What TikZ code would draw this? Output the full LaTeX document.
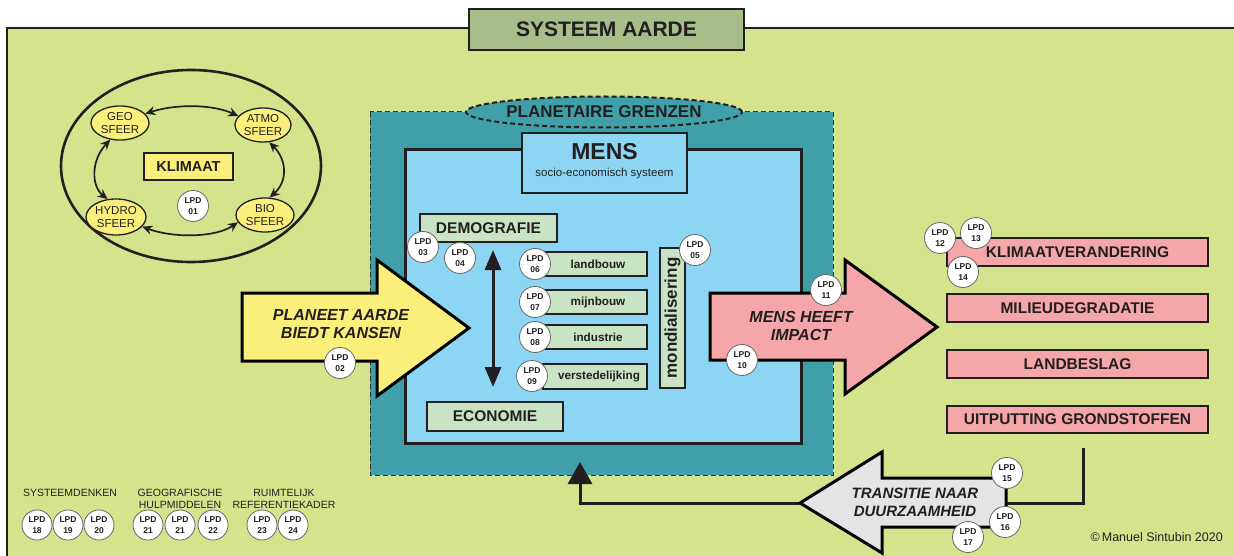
\documentclass[tikz,border=0pt]{standalone}
\usepackage{fontspec}
\setmainfont{Liberation Sans}
\usetikzlibrary{arrows.meta,shapes.geometric}
\definecolor{bggreen}{HTML}{D4E38C}
\definecolor{titlegreen}{HTML}{A8BE8A}
\definecolor{ylw}{HTML}{FBEF7B}
\definecolor{tealbg}{HTML}{3FA0AA}
\definecolor{lblue}{HTML}{8DD6F3}
\definecolor{pgreen}{HTML}{C8E4C4}
\definecolor{pinkbg}{HTML}{F4A6A8}
\definecolor{garrow}{HTML}{E4E4E6}
\definecolor{ink}{HTML}{231F20}
\begin{document}
\begin{tikzpicture}[x=1pt,y=-1pt,
  lpd/.style={circle,draw=black!60,line width=0.8pt,fill=white,minimum size=31pt,inner sep=0pt,align=center,font=\fontsize{8.5}{11}\selectfont\bfseries,text=ink},
  sphbox/.style={ellipse,draw=ink,line width=1.3pt,fill=ylw,minimum width=58pt,minimum height=34pt,inner sep=0pt,align=center,font=\fontsize{11.5}{13}\selectfont,text=ink},
  gbox/.style={rectangle,draw=ink,line width=1.8pt,fill=pgreen,inner sep=0pt,text=ink},
  sbox/.style={gbox,minimum width=104pt,minimum height=24pt,font=\fontsize{11.7}{13}\selectfont\bfseries},
  pbox/.style={rectangle,draw=ink,line width=1.5pt,fill=pinkbg,inner sep=0pt,minimum width=261pt,minimum height=28pt,font=\fontsize{15.5}{17}\selectfont\bfseries,text=ink},
  bigarrow/.style={draw=black,line width=3pt,line join=miter},
  arrowtext/.style={align=center,text=ink,font=\fontsize{16}{18.5}\selectfont\bfseries\itshape},
  kl/.style={draw=ink,line width=1.7pt,{Stealth[length=10pt,width=9pt]}-{Stealth[length=10pt,width=9pt]}},
  lgd/.style={font=\fontsize{10.5}{12.5}\selectfont,text=ink,align=center},
]
\useasboundingbox (0,0) rectangle (1234,556);
% background
\fill[white] (0,0) rectangle (1234,556);
\fill[bggreen] (7,28) rectangle (1234,556);
\draw[ink,line width=2pt] (7,557) -- (7,28) -- (1235,28);
\node[rectangle,draw=ink,line width=2pt,fill=titlegreen,minimum width=275pt,minimum height=41pt,inner sep=0pt,font=\fontsize{21}{24}\selectfont\bfseries,text=ink] (title) at (606.5,29.5) {SYSTEEM AARDE};

% climate system
\draw[ink,line width=2.6pt] (191,166) ellipse [x radius=130, y radius=96];
\node[sphbox] (geo) at (120,123) {GEO\\SFEER};
\node[sphbox,minimum width=56pt] (atmo) at (263,125) {ATMO\\SFEER};
\node[sphbox,minimum width=60pt,minimum height=36pt] (hydro) at (116,217) {HYDRO\\SFEER};
\node[sphbox] (bio) at (265,215) {BIO\\SFEER};
\node[rectangle,draw=ink,line width=1.3pt,fill=ylw,minimum width=89pt,minimum height=27pt,inner sep=0pt,font=\fontsize{14.5}{16}\selectfont\bfseries,text=ink] (klimaat) at (188.5,166.5) {KLIMAAT};
\draw[kl] (geo.20) .. controls (175,104) and (212,104) .. (atmo.160);
\draw[kl] (geo.240) .. controls (91,160) and (91,186) .. (hydro.115);
\draw[kl] (atmo.290) .. controls (287,160) and (288,181) .. (bio.75);
\draw[kl] (hydro.340) .. controls (172,238) and (215,238) .. (bio.195);

% planetary boundaries
\draw[black!80,line width=1pt,dash pattern=on 5pt off 3pt,fill=tealbg] (370,112) rectangle (833,475);
\node[ellipse,draw=ink,line width=2pt,dash pattern=on 5pt off 3pt,fill=tealbg,minimum width=248pt,minimum height=31pt,inner sep=0pt,font=\fontsize{17}{19}\selectfont\bfseries,text=ink] (pg) at (604,112) {PLANETAIRE GRENZEN};
\draw[ink,line width=3pt,fill=lblue] (405,150) rectangle (801,443);
\node[rectangle,draw=ink,line width=2.5pt,fill=lblue,minimum width=165pt,minimum height=60pt,inner sep=0pt] (mens) at (604.5,163) {};
\node[font=\fontsize{23}{25}\selectfont\bfseries,text=ink] (menst) at (604.5,152) {MENS};
\node[font=\fontsize{11.5}{13}\selectfont,text=ink] (menss) at (604.5,174) {socio-economisch systeem};

\node[gbox,minimum width=137pt,minimum height=28pt,font=\fontsize{15.5}{17}\selectfont\bfseries] (demo) at (488.5,228) {DEMOGRAFIE};
\node[gbox,minimum width=136pt,minimum height=29pt,font=\fontsize{15.5}{17}\selectfont\bfseries] (eco) at (495,416.5) {ECONOMIE};
\node[sbox] (landbouw) at (595,264) {\hspace*{6pt}landbouw};
\node[sbox] (mijnbouw) at (595,302) {\hspace*{6pt}mijnbouw};
\node[sbox] (industrie) at (595,337) {\hspace*{6pt}industrie};
\node[sbox,minimum height=25pt] (verst) at (595,376.5) {\hspace*{8pt}verstedelijking};
\node[gbox,minimum width=140pt,minimum height=25pt,rotate=90,font=\fontsize{17}{18}\selectfont\bfseries] (mond) at (672.5,318) {mondialisering};
\coordinate (da1) at (493,250);
\coordinate (da2) at (493,387);
\draw[ink,line width=3pt,{Triangle[length=20pt,width=16pt]}-{Triangle[length=20pt,width=16pt]}] (da1) -- (da2);

% big arrows
\draw[bigarrow,fill=ylw] (242,293) -- (377,293) -- (377,260) -- (469,328) -- (377,396) -- (377,361) -- (242,361) -- cycle;
\node[arrowtext] (kansen) at (341,324) {PLANEET AARDE\\BIEDT KANSEN};
\draw[bigarrow,fill=pinkbg] (710,293) -- (845,293) -- (845,260) -- (937,327) -- (845,394) -- (845,360) -- (710,360) -- cycle;
\node[arrowtext] (impact) at (801,326) {MENS HEEFT\\IMPACT};

% impacts
\node[pbox] (kv) at (1077.5,252) {KLIMAATVERANDERING};
\node[pbox] (md) at (1077.5,308) {MILIEUDEGRADATIE};
\node[pbox] (lb) at (1077.5,364) {LANDBESLAG};
\node[pbox,minimum height=27pt] (ug) at (1077.5,419.5) {UITPUTTING GRONDSTOFFEN};

% transition loop
\coordinate (c1) at (1083,448);
\coordinate (gend) at (1006,503);
\coordinate (gtip) at (800,503);
\coordinate (up) at (580,462);
\draw[ink,line width=3pt] (c1) |- (gend);
\draw[ink,line width=3pt,-{Triangle[length=22pt,width=24pt]}] (gtip) -| (up);
\draw[bigarrow,fill=garrow] (800,503) -- (882,452) -- (882,478) -- (1006,478) -- (1006,527) -- (882,527) -- (882,553) -- cycle;
\node[arrowtext,font=\fontsize{15}{18}\selectfont\bfseries\itshape] (trans) at (915,502) {TRANSITIE NAAR\\DUURZAAMHEID};

% LPD markers
\node[lpd] (l01) at (193,206) {LPD\\01};
\node[lpd] (l02) at (340,363) {LPD\\02};
\node[lpd] (l03) at (423,247) {LPD\\03};
\node[lpd] (l04) at (460,258) {LPD\\04};
\node[lpd] (l05) at (695,250) {LPD\\05};
\node[lpd] (l06) at (535,264) {LPD\\06};
\node[lpd] (l07) at (535,302) {LPD\\07};
\node[lpd] (l08) at (535,337) {LPD\\08};
\node[lpd] (l09) at (532,376) {LPD\\09};
\node[lpd] (l10) at (742,360) {LPD\\10};
\node[lpd] (l11) at (826,290) {LPD\\11};
\node[lpd] (l12) at (940,238) {LPD\\12};
\node[lpd] (l13) at (976,233) {LPD\\13};
\node[lpd] (l14) at (963,272) {LPD\\14};
\node[lpd] (l15) at (1007,473) {LPD\\15};
\node[lpd] (l16) at (1005,522) {LPD\\16};
\node[lpd] (l17) at (968,537) {LPD\\17};

% legend
\node[lgd] (sd) at (70,493) {SYSTEEMDENKEN};
\node[lgd] (gh) at (180,499) {GEOGRAFISCHE\\HULPMIDDELEN};
\node[lgd] (rr) at (284,499) {RUIMTELIJK\\REFERENTIEKADER};
\node[lpd,minimum size=30pt] (l18) at (37,525) {LPD\\18};
\node[lpd,minimum size=30pt] (l19) at (68,525) {LPD\\19};
\node[lpd,minimum size=30pt] (l20) at (99,525) {LPD\\20};
\node[lpd,minimum size=30pt] (l21a) at (148,525) {LPD\\21};
\node[lpd,minimum size=30pt] (l21b) at (180,525) {LPD\\21};
\node[lpd,minimum size=30pt] (l22) at (213,525) {LPD\\22};
\node[lpd,minimum size=30pt] (l23) at (262,525) {LPD\\23};
\node[lpd,minimum size=30pt] (l24) at (293,525) {LPD\\24};

\node[anchor=east,font=\fontsize{12.5}{14}\selectfont,text=ink,inner sep=0pt] (copy) at (1223,537) {©\,Manuel Sintubin 2020};
\end{tikzpicture}
\end{document}
